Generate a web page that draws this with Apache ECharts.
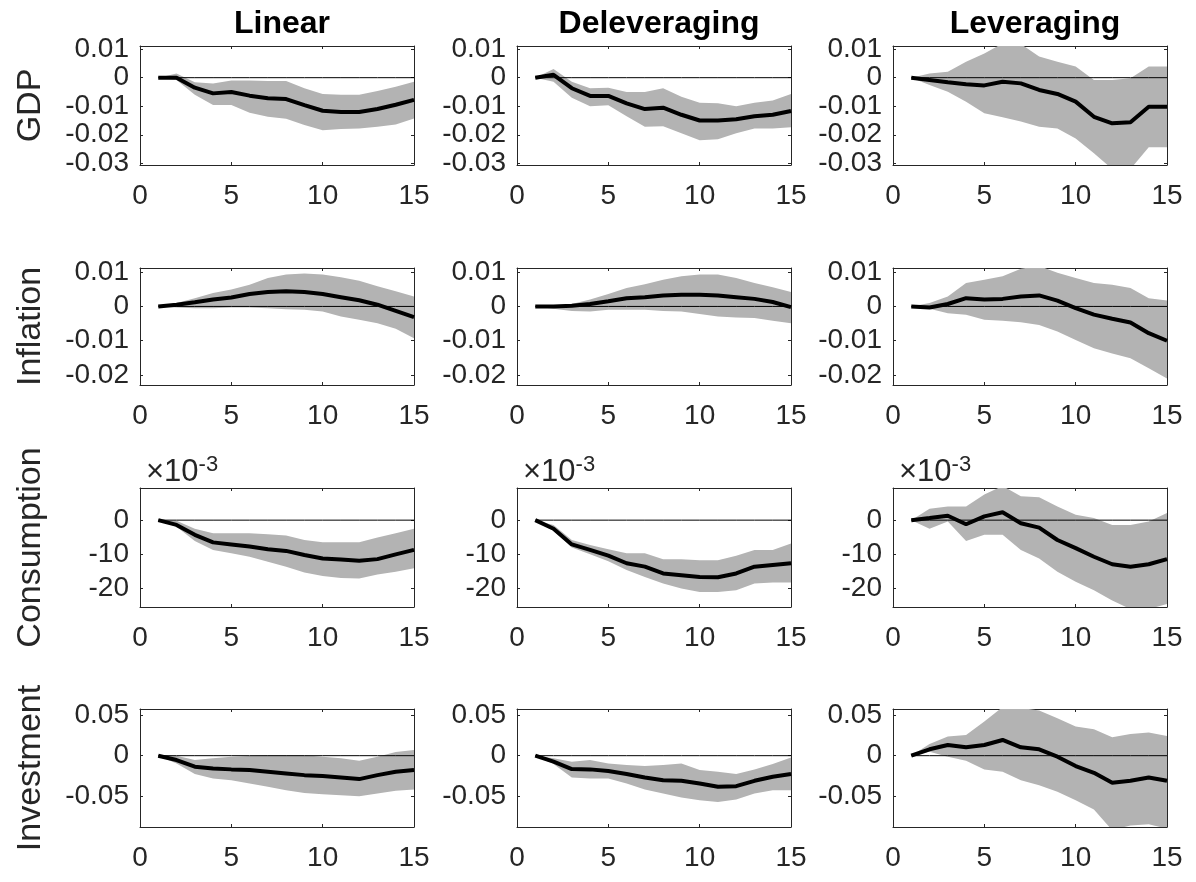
<!DOCTYPE html>
<html>
<head>
<meta charset="utf-8">
<script src="https://cdn.jsdelivr.net/npm/echarts@6/dist/echarts.min.js"></script>
<style>
html,body{margin:0;padding:0;background:#fff;}
#chart{width:1196px;height:882px;}
</style>
</head>
<body>
<div id="chart"></div>
<script>
// ---------------- data ----------------
const horizons = [1,2,3,4,5,6,7,8,9,10,11,12,13,14,15];
const columnTitles = ['Linear','Deleveraging','Leveraging'];
const rowNames = ['GDP','Inflation','Consumption','Investment'];
const xTicks = [0,5,10,15];
const yTicksGDP = [-0.03,-0.02,-0.01,0,0.01];
const yTicksInflation = [-0.02,-0.01,0,0.01];
const yTicksConsumption = [-20,-10,0];      // units of 1e-3
const yTicksInvestment = [-0.05,0,0.05];

// GDP
const gdpLinearMean  = [0,0,-0.0035,-0.0055,-0.005,-0.0063,-0.0072,-0.0075,-0.0096,-0.0116,-0.012,-0.012,-0.011,-0.0095,-0.0078];
const gdpLinearUpper = [0,0.0015,-0.0016,-0.002,-0.001,-0.001,-0.0012,-0.0012,-0.0037,-0.0057,-0.006,-0.006,-0.0047,-0.0032,-0.0014];
const gdpLinearLower = [0,-0.0008,-0.006,-0.0096,-0.0096,-0.0123,-0.0137,-0.0144,-0.0166,-0.0184,-0.018,-0.0178,-0.0172,-0.0164,-0.0143];
const gdpDelevMean   = [0,0.001,-0.0037,-0.0064,-0.0064,-0.009,-0.011,-0.0105,-0.013,-0.015,-0.015,-0.0146,-0.0135,-0.013,-0.0117];
const gdpDelevUpper  = [0,0.003,-0.0014,-0.0037,-0.0035,-0.005,-0.005,-0.0037,-0.0067,-0.0088,-0.009,-0.01,-0.0088,-0.008,-0.0057];
const gdpDelevLower  = [0,-0.0014,-0.007,-0.01,-0.0097,-0.0135,-0.0172,-0.017,-0.0195,-0.0219,-0.0216,-0.0195,-0.0178,-0.0178,-0.0174];
const gdpLevMean     = [0,-0.0008,-0.0016,-0.0023,-0.0027,-0.0014,-0.002,-0.0043,-0.0057,-0.0084,-0.0137,-0.016,-0.0156,-0.0102,-0.0102];
const gdpLevUpper    = [0,0.0015,0.0021,0.0056,0.0085,0.012,0.0118,0.0074,0.0056,0.0039,-0.0008,-0.0008,-0.0002,0.0039,0.0039];
const gdpLevLower    = [0,-0.0026,-0.0049,-0.0084,-0.0125,-0.0139,-0.0154,-0.0172,-0.0178,-0.0213,-0.0265,-0.032,-0.032,-0.0244,-0.0244];

// Inflation
const infLinearMean  = [0,0.0005,0.0012,0.002,0.0026,0.0036,0.0042,0.0044,0.0042,0.0036,0.0027,0.0018,0.0005,-0.0013,-0.0031];
const infLinearUpper = [0,0.001,0.0024,0.0039,0.0049,0.0063,0.0083,0.0093,0.0096,0.0093,0.0085,0.0075,0.0059,0.0044,0.0029];
const infLinearLower = [0,-0.0003,-0.0005,-0.0005,-0.0003,-0.0003,-0.0005,-0.0008,-0.001,-0.0015,-0.0029,-0.0039,-0.0049,-0.0065,-0.0093];
const infDelevMean   = [0,0,0.0002,0.0007,0.0015,0.0024,0.0027,0.0032,0.0034,0.0034,0.0032,0.0027,0.0022,0.0013,-0.0002];
const infDelevUpper  = [0,0,0.0007,0.002,0.0036,0.0054,0.0065,0.0078,0.0088,0.0093,0.0093,0.0083,0.0068,0.0056,0.0042];
const infDelevLower  = [0,-0.0007,-0.0013,-0.0015,-0.001,-0.001,-0.001,-0.0013,-0.0015,-0.0022,-0.0029,-0.0032,-0.0034,-0.0042,-0.0049];
const infLevMean     = [0,-0.0003,0.0007,0.0024,0.002,0.0022,0.0029,0.0032,0.0017,-0.0005,-0.0024,-0.0036,-0.0047,-0.0078,-0.01];
const infLevUpper    = [0,0.001,0.0029,0.0068,0.0078,0.0088,0.011,0.0118,0.0098,0.0083,0.0068,0.0063,0.0054,0.0024,0.0017];
const infLevLower    = [0,-0.0007,-0.002,-0.0024,-0.0039,-0.0042,-0.0046,-0.0054,-0.0073,-0.0098,-0.0122,-0.0137,-0.0151,-0.018,-0.021];

// Consumption (units of 1e-3)
const conLinearMean  = [0,-1.4,-4.3,-6.5,-7.1,-7.7,-8.5,-9.0,-10.2,-11.2,-11.5,-11.9,-11.4,-10.0,-8.7];
const conLinearUpper = [0,-0.2,-2.5,-3.8,-3.8,-3.8,-4.1,-4.5,-5.8,-6.5,-6.5,-6.5,-5.1,-3.8,-2.5];
const conLinearLower = [0,-1.9,-6.1,-8.7,-9.7,-10.7,-12.2,-13.6,-15.3,-16.3,-16.9,-17.1,-15.9,-15.1,-14.1];
const conDelevMean   = [0,-2.5,-7.1,-8.7,-10.4,-12.6,-13.6,-15.6,-16.1,-16.6,-16.7,-15.6,-13.6,-13.1,-12.6];
const conDelevUpper  = [0,-1.4,-5.8,-7.3,-8.5,-9.7,-9.7,-11.4,-11.4,-11.7,-11.7,-10.4,-8.7,-8.7,-6.8];
const conDelevLower  = [0,-3.1,-8.0,-10.0,-12.0,-14.6,-16.6,-18.5,-20.0,-21.0,-21.0,-20.5,-18.5,-18.2,-18.2];
const conLevMean     = [0,0.6,1.3,-1.2,1.1,2.3,-0.9,-2.2,-5.8,-8.2,-10.7,-12.9,-13.6,-12.9,-11.4];
const conLevUpper    = [0,3.3,4.0,4.0,7.5,10.0,7.0,6.7,4.0,1.6,0.6,-1.4,-1.4,-0.4,2.1];
const conLevLower    = [0,-2.5,-0.4,-6.1,-4.3,-4.3,-8.7,-11.2,-15.1,-18.0,-20.5,-23.5,-26.0,-26.0,-24.5];

// Investment
const invLinearMean  = [0,-0.0054,-0.0136,-0.0157,-0.0169,-0.0178,-0.0198,-0.0219,-0.024,-0.0252,-0.0269,-0.0289,-0.024,-0.0198,-0.0178];
const invLinearUpper = [0,0,-0.0054,-0.0033,-0.0012,-0.0004,0.0004,0.0004,0.0004,-0.0012,-0.0033,-0.0062,-0.0012,0.0045,0.007];
const invLinearLower = [0,-0.0095,-0.0227,-0.0281,-0.0302,-0.0343,-0.0384,-0.0426,-0.0459,-0.0475,-0.0488,-0.05,-0.0467,-0.0434,-0.0417];
const invDelevMean   = [0,-0.0074,-0.0165,-0.0169,-0.019,-0.0227,-0.0269,-0.0302,-0.031,-0.0343,-0.0384,-0.0376,-0.031,-0.026,-0.0227];
const invDelevUpper  = [0,-0.0033,-0.0074,-0.0054,-0.0095,-0.0116,-0.0128,-0.0116,-0.0095,-0.0178,-0.0198,-0.0227,-0.0169,-0.0103,-0.0021];
const invDelevLower  = [0,-0.0103,-0.0269,-0.0281,-0.0281,-0.0343,-0.0417,-0.0467,-0.0517,-0.055,-0.057,-0.0541,-0.0467,-0.0426,-0.0426];
const invLevMean     = [0,0.0079,0.0132,0.0103,0.0132,0.0194,0.0103,0.0079,-0.0012,-0.0128,-0.0211,-0.0335,-0.031,-0.0269,-0.031];
const invLevUpper    = [0,0.0145,0.0236,0.0256,0.0421,0.06,0.059,0.0558,0.0463,0.036,0.0326,0.0227,0.0269,0.0285,0.0244];
const invLevLower    = [0,0.005,-0.0012,-0.0062,-0.0169,-0.0198,-0.0302,-0.0364,-0.0446,-0.055,-0.0665,-0.092,-0.086,-0.0847,-0.09];

// ---------------- layout / style ----------------
const FONT = "'Liberation Sans', Arial, Helvetica, sans-serif";
const AXIS_COLOR = '#262626';
const BAND_COLOR = '#b3b3b3';
const colLeft = [140, 517, 893];
const colWidth = 274;
const rowTop = [46, 268, 488, 709];
const rowHeight = [119, 117, 119, 118];
const rowRange = [
  {min: -0.0306, max: 0.0111, ticks: yTicksGDP},
  {min: -0.0229, max: 0.0112, ticks: yTicksInflation},
  {min: -25.4,   max: 9.4,    ticks: yTicksConsumption},
  {min: -0.088,  max: 0.0576, ticks: yTicksInvestment}
];

const panels = [
  [[gdpLinearMean,gdpLinearLower,gdpLinearUpper],[gdpDelevMean,gdpDelevLower,gdpDelevUpper],[gdpLevMean,gdpLevLower,gdpLevUpper]],
  [[infLinearMean,infLinearLower,infLinearUpper],[infDelevMean,infDelevLower,infDelevUpper],[infLevMean,infLevLower,infLevUpper]],
  [[conLinearMean,conLinearLower,conLinearUpper],[conDelevMean,conDelevLower,conDelevUpper],[conLevMean,conLevLower,conLevUpper]],
  [[invLinearMean,invLinearLower,invLinearUpper],[invDelevMean,invDelevLower,invDelevUpper],[invLevMean,invLevLower,invLevUpper]]
];

const grids = [], xAxes = [], yAxes = [], series = [], titles = [];

function axisBase(gridIndex) {
  return {
    gridIndex,
    axisLine: {show: true, onZero: false, lineStyle: {color: AXIS_COLOR, width: 1}},
    splitLine: {show: false}
  };
}

// band polygon: upper boundary forward, lower boundary backward
function renderBand(params, api) {
  if (params.dataIndexInside !== 0) return null;
  const n = params.dataInsideLength;
  const pts = [];
  for (let j = 0; j < n; j++) pts.push(api.coord([api.value(0, j), api.value(2, j)]));
  for (let j = n - 1; j >= 0; j--) pts.push(api.coord([api.value(0, j), api.value(1, j)]));
  const cs = params.coordSys;
  return {
    type: 'polygon',
    shape: {points: pts},
    style: {fill: BAND_COLOR, stroke: null},
    clipPath: {type: 'rect', shape: {x: cs.x, y: cs.y, width: cs.width, height: cs.height}}
  };
}

for (let r = 0; r < 4; r++) {
  for (let c = 0; c < 3; c++) {
    const k = r * 3 + c;
    const [mean, lower, upper] = panels[r][c];
    const rng = rowRange[r];
    grids.push({left: colLeft[c], top: rowTop[r], width: colWidth, height: rowHeight[r], containLabel: false});

    const tickX = {show: true, inside: true, length: 3, lineStyle: {color: AXIS_COLOR}, customValues: xTicks};
    const tickY = {show: true, inside: true, length: 3, lineStyle: {color: AXIS_COLOR}, customValues: rng.ticks};

    xAxes.push(Object.assign(axisBase(k), {
      type: 'value', min: 0, max: 15, interval: 5, position: 'bottom',
      axisLabel: {show: true, fontSize: 28, color: AXIS_COLOR, fontFamily: FONT, margin: 17, customValues: xTicks},
      axisTick: tickX
    }));
    xAxes.push(Object.assign(axisBase(k), {
      type: 'value', min: 0, max: 15, interval: 5, position: 'top',
      axisLabel: {show: false}, axisTick: tickX
    }));
    const yLeft = Object.assign(axisBase(k), {
      type: 'value', min: rng.min, max: rng.max, position: 'left',
      axisLabel: {show: true, fontSize: 28, color: AXIS_COLOR, fontFamily: FONT, margin: 11,
        customValues: rng.ticks, formatter: v => String(v)},
      axisTick: tickY
    });
    if (c === 0) {
      yLeft.name = rowNames[r];
      yLeft.nameLocation = 'middle';
      yLeft.nameGap = 92;
      yLeft.nameTextStyle = {fontSize: 34, color: AXIS_COLOR, fontFamily: FONT};
    }
    yAxes.push(yLeft);
    yAxes.push(Object.assign(axisBase(k), {
      type: 'value', min: rng.min, max: rng.max, position: 'right',
      axisLabel: {show: false}, axisTick: tickY
    }));

    const xi = 2 * k, yi = 2 * k;
    series.push({
      type: 'custom', xAxisIndex: xi, yAxisIndex: yi, silent: true, z: 1,
      data: horizons.map((h, i) => [h, lower[i], upper[i]]),
      encode: {x: 0, y: [1, 2]},
      renderItem: renderBand
    });
    series.push({
      type: 'line', xAxisIndex: xi, yAxisIndex: yi,
      data: horizons.map(h => [h, 0]),
      showSymbol: false, symbol: 'none', silent: true,
      lineStyle: {color: '#000', width: 1}, z: 2
    });
    series.push({
      type: 'line', xAxisIndex: xi, yAxisIndex: yi,
      data: horizons.map((h, i) => [h, mean[i]]),
      showSymbol: false, symbol: 'none', silent: true,
      lineStyle: {color: '#000', width: 4}, z: 3
    });
  }
}

for (let c = 0; c < 3; c++) {
  titles.push({
    text: columnTitles[c], left: colLeft[c] + colWidth / 2, top: 3, textAlign: 'center',
    textStyle: {fontSize: 32, fontWeight: 'bold', color: '#000', fontFamily: FONT}
  });
  titles.push({
    text: '{a|×10}{b|-3}', left: colLeft[c] + 1, top: 449,
    textStyle: {
      fontFamily: FONT, fontWeight: 'normal', fontSize: 30,
      rich: {
        a: {fontSize: 31, fontWeight: 'normal', color: AXIS_COLOR, fontFamily: FONT, lineHeight: 34, verticalAlign: 'bottom'},
        b: {fontSize: 22, fontWeight: 'normal', color: AXIS_COLOR, fontFamily: FONT, lineHeight: 22, verticalAlign: 'top'}
      }
    }
  });
}

const chart = echarts.init(document.getElementById('chart'), null, {renderer: 'canvas'});
chart.setOption({
  animation: false,
  backgroundColor: '#fff',
  textStyle: {fontFamily: FONT},
  title: titles,
  grid: grids,
  xAxis: xAxes,
  yAxis: yAxes,
  series: series
});
</script>
</body>
</html>
